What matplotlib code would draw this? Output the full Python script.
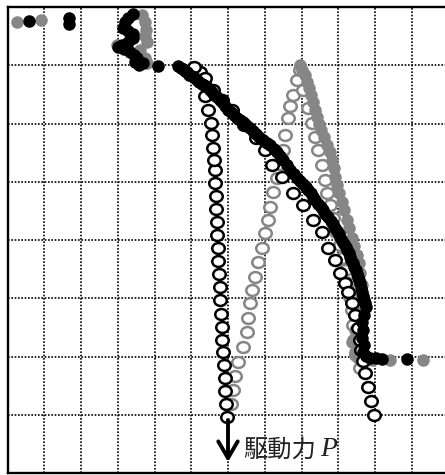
import matplotlib.pyplot as plt
from matplotlib.path import Path
from matplotlib.transforms import Affine2D

plt.rcParams["font.family"] = ["Noto Sans CJK JP", "DejaVu Sans"]

# displacement (grid units, left -> right) and drive force (grid units, top -> bottom)
black_solid_x = [0.59, 1.67, 1.67, 3.41, 3.28, 3.20, 3.14, 3.28, 3.41, 3.41, 3.28,
                 3.12, 3.01, 3.17, 3.33, 3.44, 3.52, 3.47, 3.58, 3.69, 4.10, 4.64,
                 4.71, 4.78, 4.83, 4.88, 4.95, 5.02, 5.09, 5.16, 5.22, 5.29, 5.36,
                 5.43, 5.50, 5.56, 5.63, 5.70, 5.77, 5.84, 5.92, 6.00, 6.08, 6.16,
                 6.25, 6.33, 6.40, 6.46, 6.53, 6.60, 6.68, 6.76, 6.85, 6.95, 7.05,
                 7.14, 7.24, 7.33, 7.42, 7.50, 7.60, 7.69, 7.79, 7.88, 7.96, 8.04,
                 8.11, 8.18, 8.25, 8.31, 8.38, 8.45, 8.52, 8.59, 8.65, 8.72, 8.79,
                 8.86, 8.92, 8.97, 9.01, 9.05, 9.11, 9.16, 9.20, 9.24, 9.28, 9.32,
                 9.36, 9.40, 9.44, 9.48, 9.51, 9.54, 9.57, 9.59, 9.62, 9.65, 9.68,
                 9.70, 9.73, 9.76, 9.70, 9.65, 9.67, 9.65, 9.70, 9.67, 9.76, 9.86,
                 10.03, 10.19, 10.87]
black_solid_y = [0.24, 0.19, 0.29, 0.12, 0.19, 0.26, 0.36, 0.41, 0.46, 0.53, 0.60,
                 0.65, 0.69, 0.72, 0.77, 0.82, 0.88, 0.94, 1.00, 0.96, 1.01, 1.01,
                 1.04, 1.06, 1.10, 1.12, 1.16, 1.18, 1.22, 1.25, 1.29, 1.32, 1.34,
                 1.37, 1.42, 1.46, 1.51, 1.55, 1.59, 1.63, 1.70, 1.77, 1.81, 1.85,
                 1.90, 1.94, 1.98, 2.01, 2.05, 2.08, 2.13, 2.18, 2.23, 2.28, 2.33,
                 2.37, 2.43, 2.49, 2.56, 2.63, 2.72, 2.80, 2.87, 2.94, 2.99, 3.04,
                 3.09, 3.14, 3.20, 3.26, 3.32, 3.38, 3.44, 3.49, 3.55, 3.61, 3.67,
                 3.73, 3.79, 3.85, 3.90, 3.95, 4.01, 4.07, 4.12, 4.17, 4.23, 4.29,
                 4.35, 4.40, 4.46, 4.52, 4.58, 4.64, 4.69, 4.74, 4.82, 4.89, 4.96,
                 5.03, 5.09, 5.15, 5.29, 5.41, 5.55, 5.68, 5.80, 5.92, 5.99, 6.03,
                 6.03, 6.04, 6.04]

gray_solid_x = [0.26, 0.91, 3.66, 3.74, 3.77, 3.74, 3.80, 2.98, 3.61, 3.74, 3.80,
                7.96, 8.01, 8.10, 8.15, 8.20, 8.26, 8.31, 8.37, 8.42, 8.48, 8.53,
                8.61, 8.69, 8.78, 8.83, 8.89, 8.91, 8.97, 9.02, 9.10, 9.16, 9.24,
                9.29, 9.37, 9.43, 9.51, 9.56, 9.59, 9.65, 9.67, 9.70, 9.59, 9.46,
                9.37, 9.46, 9.54, 9.92, 10.41, 11.31]
gray_solid_y = [0.26, 0.22, 0.14, 0.26, 0.39, 0.50, 0.60, 0.65, 0.74, 0.88, 0.96,
                1.00, 1.08, 1.17, 1.29, 1.39, 1.51, 1.63, 1.77, 1.89, 2.01, 2.11,
                2.23, 2.37, 2.49, 2.63, 2.76, 2.92, 3.06, 3.19, 3.35, 3.49, 3.66,
                3.79, 3.97, 4.10, 4.26, 4.40, 4.57, 4.77, 4.98, 5.15, 5.34, 5.55,
                5.75, 5.92, 6.03, 6.06, 6.06, 6.06]

black_open_x = [5.97, 5.94, 5.91, 5.91, 5.89, 5.86, 5.84, 5.84, 5.81, 5.78, 5.78,
                5.76, 5.73, 5.73, 5.70, 5.70, 5.67, 5.67, 5.65, 5.65, 5.62, 5.59,
                5.56, 5.54, 5.46, 5.37, 5.35, 5.24, 5.07, 5.37, 5.59, 5.84, 6.11,
                6.44, 6.76, 7.01, 7.20, 7.47, 7.77, 8.04, 8.31, 8.56, 8.72, 8.91,
                9.05, 9.18, 9.27, 9.37, 9.46, 9.54, 9.59, 9.62, 9.67, 9.73, 9.81,
                9.89, 9.97]
black_open_y = [7.04, 6.82, 6.59, 6.37, 6.15, 5.92, 5.72, 5.49, 5.27, 5.03, 4.81,
                4.58, 4.36, 4.14, 3.91, 3.69, 3.47, 3.24, 3.02, 2.80, 2.63, 2.42,
                2.20, 1.99, 1.77, 1.53, 1.29, 1.12, 1.03, 1.22, 1.42, 1.60, 1.77,
                2.03, 2.25, 2.45, 2.71, 2.92, 3.19, 3.40, 3.66, 3.86, 4.14, 4.34,
                4.57, 4.74, 4.89, 5.08, 5.29, 5.51, 5.72, 5.89, 6.08, 6.28, 6.52,
                6.76, 7.00]

gray_open_x = [6.08, 6.13, 6.19, 6.27, 6.41, 6.52, 6.54, 6.60, 6.65, 6.73, 6.82,
               6.93, 7.01, 7.09, 7.14, 7.22, 7.33, 7.41, 7.50, 7.55, 7.63, 7.69,
               7.77, 7.88, 7.96, 8.04, 8.18, 8.29, 8.37, 8.45, 8.56, 8.64, 8.69,
               8.78, 8.86, 8.94, 9.05, 9.10, 9.18, 9.27, 9.32, 9.37, 9.40, 9.43,
               9.48, 9.59]
gray_open_y = [6.82, 6.58, 6.34, 6.09, 5.84, 5.58, 5.34, 5.08, 4.86, 4.64, 4.38,
               4.14, 3.88, 3.66, 3.43, 3.18, 2.94, 2.70, 2.45, 2.20, 1.91, 1.70,
               1.51, 1.25, 1.08, 1.42, 1.73, 1.99, 2.23, 2.45, 2.71, 2.97, 3.19,
               3.40, 3.62, 3.86, 4.09, 4.31, 4.52, 4.74, 4.98, 5.20, 5.46, 5.72,
               5.97, 6.20]

GRAY = "#868686"

# slightly wide ellipse for the hollow markers
oval = Path.unit_circle().transformed(Affine2D().scale(1.15, 1.0))

fig = plt.figure(figsize=(4.45, 4.75), dpi=100)
ax = fig.add_axes([7.5 / 445, 2 / 475, 441 / 445, 466 / 475])

ax.plot(gray_open_x, gray_open_y, ls="none", marker=oval, ms=9, mfc="white",
        mec=GRAY, mew=1.8, zorder=3)
ax.plot(gray_solid_x, gray_solid_y, "o", ms=8, color=GRAY, mec=GRAY, zorder=4)
ax.plot(black_open_x, black_open_y, ls="none", marker=oval, ms=9, mfc="white",
        mec="black", mew=1.8, zorder=5)
ax.plot(black_solid_x, black_solid_y, "o", ms=8, color="black", zorder=6)

# load direction arrow
ax.annotate("", xy=(6.0, 7.81), xytext=(6.0, 7.09),
            arrowprops=dict(arrowstyle="->,head_length=0.6,head_width=0.35",
                            lw=2.8, color="black", mutation_scale=20,
                            shrinkA=0, shrinkB=0), zorder=7)
ax.text(6.41, 7.6, "駆動力", fontsize=17.5, ha="left", va="center", color="#222222")
ax.text(8.52, 7.6, "P", fontsize=20, style="italic", family="Liberation Serif",
        ha="left", va="center", color="#222222")

ax.set_xlim(0, 12)
ax.set_ylim(8, 0)
ax.set_xticks(range(13))
ax.set_yticks(range(9))
ax.grid(True, color="black", linestyle=(0, (1, 1)), linewidth=1.2)
ax.set_axisbelow(True)
ax.tick_params(length=0, labelbottom=False, labelleft=False)

for side in ["top", "left", "bottom"]:
    ax.spines[side].set_linewidth(1.7)
ax.spines["right"].set_visible(False)

fig.savefig("out.png", dpi=100)
